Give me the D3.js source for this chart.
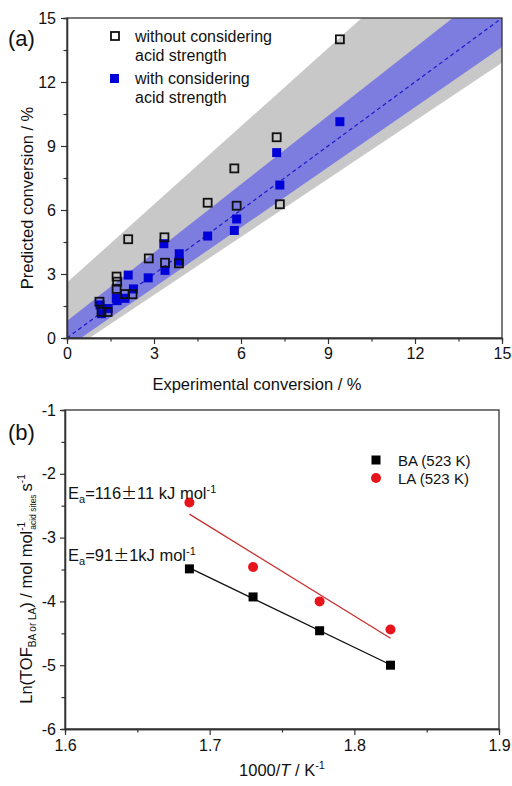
<!DOCTYPE html>
<html>
<head>
<meta charset="utf-8">
<script src="https://cdn.jsdelivr.net/npm/d3@7"></script>
<style>
  body { margin: 0; background: #fff; }
  svg text { font-family: "Liberation Sans", Arial, sans-serif; fill: #111; }
</style>
</head>
<body>
<div id="chart"></div>
<script>
// ---- panel (a) data: experimental vs predicted conversion (%) ----
const withoutExp  = [9.41, 7.23, 5.77, 4.85, 5.85, 7.34, 2.11, 3.36, 2.82, 3.38, 3.86, 1.71, 1.73, 1.71, 2.00, 2.26, 1.12, 1.19, 1.40];
const withoutPred = [14.0, 9.41, 7.95, 6.34, 6.20, 6.27, 4.63, 4.72, 3.73, 3.53, 3.50, 2.88, 2.64, 2.30, 2.06, 2.05, 1.70, 1.23, 1.22];
const withExp  = [9.41, 7.23, 7.34, 5.85, 5.77, 4.85, 3.34, 3.87, 3.87, 3.38, 2.80, 2.11, 2.29, 1.70, 1.73, 2.00, 1.14, 1.19, 1.42];
const withPred = [10.14, 8.69, 7.17, 5.58, 5.04, 4.78, 4.42, 3.95, 3.60, 3.17, 2.82, 2.95, 2.30, 1.86, 1.75, 1.86, 1.55, 1.14, 1.38];

// band edges, [x, y]
const grayUpper = [[0, 2.6], [10.16, 15], [15, 20.9]];
const grayLower = [[0, -0.7], [15, 12.9]];
const blueUpper = [[0, 0.8], [13.3, 15], [15, 16.8]];
const blueLower = [[0, -0.45], [15, 13.64]];

const aTicks = [0, 3, 6, 9, 12, 15];
const aMinor = [1.5, 4.5, 7.5, 10.5, 13.5];

// ---- panel (b) data: Arrhenius plot ----
const invT = [1.686, 1.730, 1.776, 1.825];
const lnBA = [-3.49, -3.93, -4.46, -5.00];
const lnLA = [-2.45, -3.46, -4.00, -4.44];
const bXTicks = [1.6, 1.7, 1.8, 1.9];
const bXMinor = [1.65, 1.75, 1.85];
const bYTicks = [-6, -5, -4, -3, -2, -1];
const bYMinor = [-5.5, -4.5, -3.5, -2.5, -1.5];

const W = 512, H = 786;
const svg = d3.select("#chart").append("svg")
    .attr("width", W)
    .attr("height", H);

// ================= panel (a) =================
const ax = d3.scaleLinear().domain([0, 15]).range([67, 502]);
const ay = d3.scaleLinear().domain([0, 15]).range([338, 18]);

svg.append("clipPath").attr("id", "clipA")
    .append("rect")
    .attr("x", ax(0)).attr("y", ay(15))
    .attr("width", ax(15) - ax(0)).attr("height", ay(0) - ay(15));

const pa = svg.append("g").attr("clip-path", "url(#clipA)");

const poly = d3.line()
    .x(function(d) { return ax(d[0]); })
    .y(function(d) { return ay(d[1]); });

function bandPath(upper, lower) {
    // upper edge left->right, then lower edge right->left
    return poly(upper) + "L" + poly(lower.slice().reverse()).slice(1) + "Z";
}

pa.append("path")
    .attr("d", bandPath(grayUpper, grayLower))
    .attr("fill", "#c8c8c8");

pa.append("path")
    .attr("d", bandPath(blueUpper, blueLower))
    .attr("fill", "#7d7de0");

pa.append("line")
    .attr("x1", ax(0)).attr("y1", ay(0))
    .attr("x2", ax(15)).attr("y2", ay(15))
    .attr("stroke", "#1a1acc")
    .attr("stroke-width", 1.2)
    .attr("stroke-dasharray", "4,3");

const sq = 9;
pa.selectAll(".withPt")
    .data(withExp.map(function(x, i) { return [x, withPred[i]]; }))
    .enter().append("rect")
    .attr("class", "withPt")
    .attr("x", function(d) { return ax(d[0]) - sq / 2; })
    .attr("y", function(d) { return ay(d[1]) - sq / 2; })
    .attr("width", sq).attr("height", sq)
    .attr("fill", "#0000d8");

pa.selectAll(".withoutPt")
    .data(withoutExp.map(function(x, i) { return [x, withoutPred[i]]; }))
    .enter().append("rect")
    .attr("class", "withoutPt")
    .attr("x", function(d) { return ax(d[0]) - 4; })
    .attr("y", function(d) { return ay(d[1]) - 4; })
    .attr("width", 8).attr("height", 8)
    .attr("fill", "none")
    .attr("stroke", "#111")
    .attr("stroke-width", 1.8);

// axes (a)
function styleAxis(g) {
    g.selectAll("path").attr("stroke", "#333").attr("stroke-width", 1.3);
    g.selectAll("line").attr("stroke", "#333").attr("stroke-width", 1.2);
    g.selectAll("text").style("font-size", "16px").style("font-family", "Liberation Sans, Arial, sans-serif");
}

svg.append("g")
    .attr("transform", "translate(0," + ay(0) + ")")
    .call(d3.axisBottom(ax).tickValues(aMinor).tickSize(3.5).tickFormat(""))
    .call(styleAxis);
svg.append("g")
    .attr("transform", "translate(0," + ay(0) + ")")
    .call(d3.axisBottom(ax).tickValues(aTicks).tickSizeInner(6).tickSizeOuter(0).tickPadding(4).tickFormat(d3.format("d")))
    .call(styleAxis);
svg.append("g")
    .attr("transform", "translate(" + ax(0) + ",0)")
    .call(d3.axisLeft(ay).tickValues(aMinor).tickSize(3.5).tickFormat(""))
    .call(styleAxis);
svg.append("g")
    .attr("transform", "translate(" + ax(0) + ",0)")
    .call(d3.axisLeft(ay).tickValues(aTicks).tickSizeInner(6).tickSizeOuter(0).tickPadding(5).tickFormat(d3.format("d")))
    .call(styleAxis);

svg.append("rect")
    .attr("x", ax(0)).attr("y", ay(15))
    .attr("width", ax(15) - ax(0)).attr("height", ay(0) - ay(15))
    .attr("fill", "none").attr("stroke", "#333").attr("stroke-width", 1.3);

svg.append("text")
    .attr("x", 257).attr("y", 390)
    .attr("text-anchor", "middle")
    .style("font-size", "16.5px")
    .text("Experimental conversion / %");

svg.append("text")
    .attr("transform", "translate(33," + ((ay(0) + ay(15)) / 2 + 20) + ") rotate(-90)")
    .attr("text-anchor", "middle")
    .style("font-size", "16.5px")
    .text("Predicted conversion / %");

svg.append("text")
    .attr("x", 8).attr("y", 46)
    .style("font-size", "22px")
    .text("(a)");

// legend (a)
svg.append("rect")
    .attr("x", 111).attr("y", 32).attr("width", 8).attr("height", 8)
    .attr("fill", "none").attr("stroke", "#111").attr("stroke-width", 1.8);
svg.append("text").attr("x", 135).attr("y", 42).style("font-size", "16px").text("without considering");
svg.append("text").attr("x", 135).attr("y", 61).style("font-size", "16px").text("acid strength");
svg.append("rect")
    .attr("x", 110).attr("y", 74).attr("width", 9).attr("height", 9)
    .attr("fill", "#0000d8");
svg.append("text").attr("x", 135).attr("y", 84).style("font-size", "16px").text("with considering");
svg.append("text").attr("x", 135).attr("y", 103).style("font-size", "16px").text("acid strength");

// ================= panel (b) =================
const bx = d3.scaleLinear().domain([1.6, 1.9]).range([65, 499]);
const by = d3.scaleLinear().domain([-6, -1]).range([729, 410]);

// least-squares fit lines over the measured points
function fit(xs, ys) {
    const mx = d3.mean(xs), my = d3.mean(ys);
    let sxy = 0, sxx = 0;
    xs.forEach(function(x, i) { sxy += (x - mx) * (ys[i] - my); sxx += (x - mx) * (x - mx); });
    const b = sxy / sxx;
    return function(x) { return my + b * (x - mx); };
}
const fBA = fit(invT, lnBA), fLA = fit(invT, lnLA);
const x0 = d3.min(invT), x1 = d3.max(invT);

svg.append("line")
    .attr("x1", bx(x0)).attr("y1", by(fLA(x0)))
    .attr("x2", bx(x1)).attr("y2", by(fLA(x1)))
    .attr("stroke", "#c83030").attr("stroke-width", 1.3);
svg.append("line")
    .attr("x1", bx(x0)).attr("y1", by(fBA(x0)))
    .attr("x2", bx(x1)).attr("y2", by(fBA(x1)))
    .attr("stroke", "#111").attr("stroke-width", 1.3);

svg.selectAll(".ba")
    .data(invT.map(function(x, i) { return [x, lnBA[i]]; }))
    .enter().append("rect")
    .attr("class", "ba")
    .attr("x", function(d) { return bx(d[0]) - 4.5; })
    .attr("y", function(d) { return by(d[1]) - 4.5; })
    .attr("width", 9).attr("height", 9)
    .attr("fill", "#000");

svg.selectAll(".la")
    .data(invT.map(function(x, i) { return [x, lnLA[i]]; }))
    .enter().append("circle")
    .attr("class", "la")
    .attr("cx", function(d) { return bx(d[0]); })
    .attr("cy", function(d) { return by(d[1]); })
    .attr("r", 5)
    .attr("fill", "#e8141c");

svg.append("g")
    .attr("transform", "translate(0," + by(-6) + ")")
    .call(d3.axisBottom(bx).tickValues(bXMinor).tickSize(3.5).tickFormat(""))
    .call(styleAxis);
svg.append("g")
    .attr("transform", "translate(0," + by(-6) + ")")
    .call(d3.axisBottom(bx).tickValues(bXTicks).tickSizeInner(6).tickSizeOuter(0).tickPadding(5).tickFormat(d3.format(".1f")))
    .call(styleAxis);
svg.append("g")
    .attr("transform", "translate(" + bx(1.6) + ",0)")
    .call(d3.axisLeft(by).tickValues(bYMinor).tickSize(3.5).tickFormat(""))
    .call(styleAxis);
svg.append("g")
    .attr("transform", "translate(" + bx(1.6) + ",0)")
    .call(d3.axisLeft(by).tickValues(bYTicks).tickSizeInner(5).tickSizeOuter(0).tickPadding(4).tickFormat(function(d) { return "-" + Math.abs(d); }))
    .call(styleAxis);

svg.append("rect")
    .attr("x", bx(1.6)).attr("y", by(-1))
    .attr("width", bx(1.9) - bx(1.6)).attr("height", by(-6) - by(-1))
    .attr("fill", "none").attr("stroke", "#333").attr("stroke-width", 1.3);

svg.append("text")
    .attr("x", 8).attr("y", 440)
    .style("font-size", "22px")
    .text("(b)");

// legend (b)
svg.append("rect").attr("x", 371.5).attr("y", 455.5).attr("width", 9).attr("height", 9).attr("fill", "#000");
svg.append("text").attr("x", 398).attr("y", 465.5).style("font-size", "15px").text("BA (523 K)");
svg.append("circle").attr("cx", 376).attr("cy", 478).attr("r", 5).attr("fill", "#e8141c");
svg.append("text").attr("x", 398).attr("y", 483.5).style("font-size", "15px").text("LA (523 K)");

// Ea annotations
function eaLabel(y, a, b) {
    const t = svg.append("text").attr("x", 68).attr("y", y).style("font-size", "16.5px");
    t.append("tspan").text("E");
    t.append("tspan").attr("dy", 4).style("font-size", "11px").text("a");
    t.append("tspan").attr("dy", -4).text("=" + a);
    t.append("tspan").style("font-family", "Noto Sans CJK SC").style("font-size", "16px").text("\u00b1");
    t.append("tspan").text(b);
    t.append("tspan").attr("dy", -6).style("font-size", "11px").text("-1");
}
eaLabel(499, "116", "11 kJ mol");
eaLabel(561, "91", "1kJ mol");

// axis titles (b)
const xt = svg.append("text")
    .attr("x", 282).attr("y", 776)
    .attr("text-anchor", "middle")
    .style("font-size", "16.5px");
xt.append("tspan").text("1000/");
xt.append("tspan").style("font-style", "italic").text("T");
xt.append("tspan").text(" / K");
xt.append("tspan").attr("dy", -7).style("font-size", "11px").text("-1");

const yt = svg.append("text")
    .attr("transform", "translate(32," + 589 + ") rotate(-90)")
    .attr("text-anchor", "middle")
    .style("font-size", "16.5px");
yt.append("tspan").text("Ln(TOF");
yt.append("tspan").attr("dy", 4).style("font-size", "10px").text("BA or LA");
yt.append("tspan").attr("dy", -4).text(") / mol mol");
yt.append("tspan").attr("dy", -7).style("font-size", "10px").text("-1");
yt.append("tspan").attr("dx", -8).attr("dy", 11).style("font-size", "8.5px").text("acid sites");
yt.append("tspan").attr("dy", -4).attr("dx", 3).text("s");
yt.append("tspan").attr("dy", -7).style("font-size", "10px").text("-1");
</script>
</body>
</html>
